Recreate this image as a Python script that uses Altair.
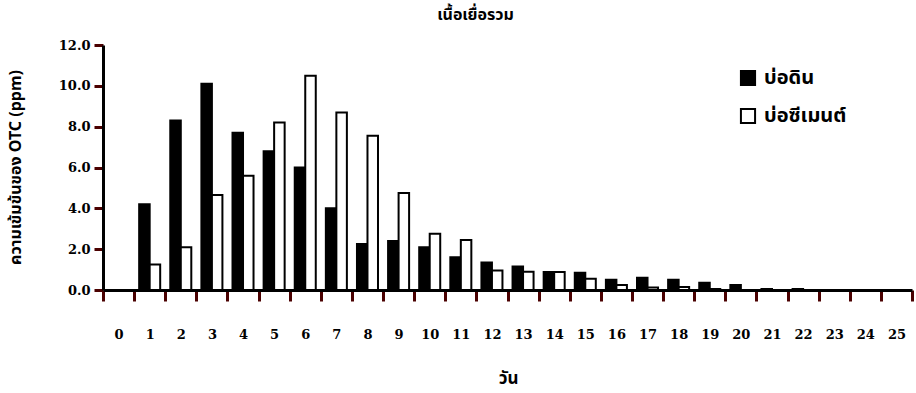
import altair as alt
import pandas as pd

days = list(range(26))
series_names = ["บ่อดิน", "บ่อซีเมนต์"]
din = [0, 4.2, 8.3, 10.1, 7.7, 6.8, 6.0, 4.0, 2.25, 2.4, 2.1, 1.6, 1.35, 1.15, 0.88,
       0.85, 0.5, 0.6, 0.5, 0.35, 0.25, 0.05, 0.05, 0, 0, 0]
cement = [0, 1.25, 2.1, 4.65, 5.6, 8.2, 10.5, 8.7, 7.55, 4.75, 2.75, 2.45, 0.95, 0.9, 0.88,
          0.55, 0.25, 0.12, 0.15, 0.05, 0, 0, 0, 0, 0, 0]

rows = []
for d, a, b in zip(days, din, cement):
    rows.append({"day": d, "series": series_names[0], "value": a})
    rows.append({"day": d, "series": series_names[1], "value": b})
df = pd.DataFrame(rows)

FONT = "DejaVu Serif, Liberation Serif, serif"
THAI = "Noto Sans, Noto Sans Thai, sans-serif"
TICK = "#4a0000"

chart = alt.Chart(
    df,
    title=alt.TitleParams("เนื้อเยื่อรวม", font=THAI, fontSize=16, fontWeight="bold",
                          anchor="middle", dx=-32, offset=16, color="black"),
).mark_bar(stroke="black", strokeWidth=2).encode(
    x=alt.X("day:O", sort=days,
            scale=alt.Scale(paddingInner=0, paddingOuter=0),
            axis=alt.Axis(title="วัน", labelAngle=0, ticks=True, tickBand="extent", tickSize=11,
                          tickWidth=3, tickColor=TICK, tickOpacity=1, domainWidth=3,
                          domainColor="black",
                          labelPadding=27, labelFont=FONT, labelFontSize=13,
                          labelFontWeight="bold", labelColor="black",
                          titleFont=THAI, titleFontSize=17, titleFontWeight="bold",
                          titleColor="black", titleX=405, titleY=80)),
    xOffset=alt.XOffset("series:N", sort=series_names,
                        scale=alt.Scale(paddingInner=0, paddingOuter=0.48)),
    y=alt.Y("value:Q", scale=alt.Scale(domain=[0, 12]),
            axis=alt.Axis(title="ความเข้มข้นของ OTC (ppm)", values=[0, 2, 4, 6, 8, 10, 12],
                          format=".1f", grid=False, ticks=True, tickSize=9, tickWidth=3,
                          tickColor=TICK, tickOpacity=1, domainWidth=3, domainColor="black",
                          labelPadding=4, labelFont=FONT, labelFontSize=13,
                          labelFontWeight="bold", labelColor="black",
                          titleFont=THAI, titleFontSize=16, titleFontWeight="bold",
                          titleColor="black", titleX=-80, titleY=122, titleAngle=-90)),
    fill=alt.Fill("series:N", sort=series_names,
                  scale=alt.Scale(domain=series_names, range=["black", "white"]),
                  legend=alt.Legend(title=None, orient="none", legendX=635, legendY=23,
                                    symbolType="square", symbolSize=200,
                                    symbolStrokeColor="black", symbolStrokeWidth=2,
                                    labelFont=THAI, labelFontSize=20, labelFontWeight="bold",
                                    labelColor="black", rowPadding=14, labelOffset=6)),
).properties(
    width=809, height=245,
    background="white",
    autosize=alt.AutoSizeParams(type="none"),
    padding={"left": 103, "top": 45, "right": 4, "bottom": 103},
).configure_view(stroke=None)

chart.save("out.html", embed_options={"renderer": "svg", "actions": False})
